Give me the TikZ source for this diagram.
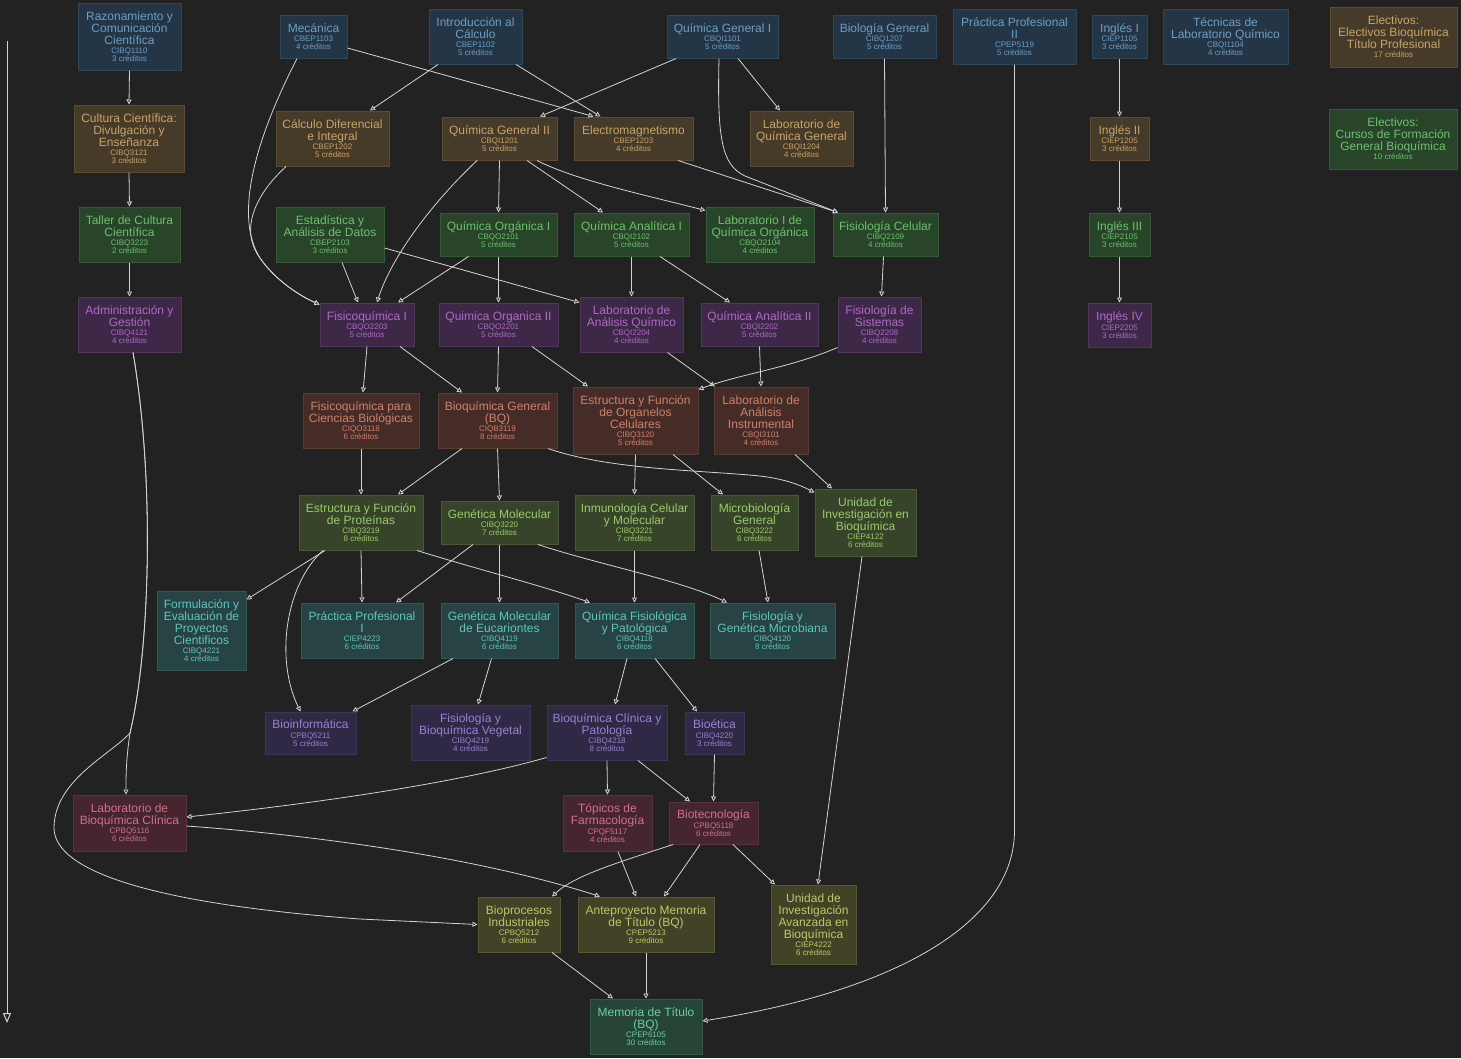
\documentclass[tikz,border=0pt]{standalone}
\usepackage{fontspec}
\setmainfont{Liberation Sans}
\usetikzlibrary{arrows.meta,calc}
\definecolor{bgc}{HTML}{222222}
\definecolor{linec}{HTML}{D4D4D4}
\definecolor{blueF}{HTML}{243645}\definecolor{blueD}{HTML}{2D4658}\definecolor{blueT}{HTML}{6B9EC6}
\definecolor{brownF}{HTML}{463A28}\definecolor{brownD}{HTML}{5B4B33}\definecolor{brownT}{HTML}{C9A468}
\definecolor{greenF}{HTML}{28452A}\definecolor{greenD}{HTML}{325A36}\definecolor{greenT}{HTML}{6CC06C}
\definecolor{purpF}{HTML}{3D2947}\definecolor{purpD}{HTML}{4F355B}\definecolor{purpT}{HTML}{B067C7}
\definecolor{rustF}{HTML}{462C27}\definecolor{rustD}{HTML}{5B3A33}\definecolor{rustT}{HTML}{D0806B}
\definecolor{oliveF}{HTML}{374429}\definecolor{oliveD}{HTML}{485935}\definecolor{oliveT}{HTML}{9ACB69}
\definecolor{tealF}{HTML}{274343}\definecolor{tealD}{HTML}{305857}\definecolor{tealT}{HTML}{5EC6BD}
\definecolor{indF}{HTML}{2F2946}\definecolor{indD}{HTML}{3D355A}\definecolor{indT}{HTML}{9A7FD3}
\definecolor{marF}{HTML}{45262F}\definecolor{marD}{HTML}{5A323E}\definecolor{marT}{HTML}{D26E8C}
\definecolor{yelF}{HTML}{414226}\definecolor{yelD}{HTML}{565832}\definecolor{yelT}{HTML}{C3C66B}
\definecolor{dgF}{HTML}{264537}\definecolor{dgD}{HTML}{305A47}\definecolor{dgT}{HTML}{6CCFA0}
\newcommand\smtx[1]{{\fontsize{8}{8}\selectfont #1}}
\newcommand\crsinfo[2]{\\[-2.7pt]\smtx{#1}\\[-4pt]\smtx{#2}}
\tikzset{
 crs/.style={rectangle, inner sep=0pt, line width=1pt, align=center, font=\fontsize{12}{12}\selectfont},
 cblue/.style={crs, fill=blueF, draw=blueD, text=blueT},
 cbrown/.style={crs, fill=brownF, draw=brownD, text=brownT},
 cgreen/.style={crs, fill=greenF, draw=greenD, text=greenT},
 cpurp/.style={crs, fill=purpF, draw=purpD, text=purpT},
 crust/.style={crs, fill=rustF, draw=rustD, text=rustT},
 colive/.style={crs, fill=oliveF, draw=oliveD, text=oliveT},
 cteal/.style={crs, fill=tealF, draw=tealD, text=tealT},
 cind/.style={crs, fill=indF, draw=indD, text=indT},
 cmar/.style={crs, fill=marF, draw=marD, text=marT},
 cyel/.style={crs, fill=yelF, draw=yelD, text=yelT},
 cdg/.style={crs, fill=dgF, draw=dgD, text=dgT},
 wh/.style 2 args={minimum width=#1, minimum height=#2},
 arr/.style={draw=linec, line width=0.8pt, -{Triangle[open,length=5pt,width=5pt,fill=bgc]}},
 axisarr/.style={draw=linec, line width=1pt, -{Triangle[open,length=10pt,width=8pt,fill=bgc]}},
}
\begin{document}
\begin{tikzpicture}[x=1pt,y=-1pt]
\path[fill=bgc,use as bounding box] (0,0) rectangle (1461,1058);
% row 1
\node[cblue, wh={103}{67}] (raz) at (129.5,36.5) {Razonamiento y\\Comunicación\\Científica\crsinfo{CIBQ1110}{3 créditos}};
\node[cblue, wh={67}{43}] (mec) at (313.5,36.5) {Mecánica\crsinfo{CBEP1103}{4 créditos}};
\node[cblue, wh={93}{55}] (intro) at (475.5,36.5) {Introducción al\\Cálculo\crsinfo{CBEP1102}{5 créditos}};
\node[cblue, wh={111}{43}] (qg1) at (722.5,36.5) {Química General I\crsinfo{CBQI1101}{5 créditos}};
\node[cblue, wh={103}{43}] (biogen) at (884.5,36.5) {Biología General\crsinfo{CIBQ1207}{5 créditos}};
\node[cblue, wh={123}{55}] (prac2) at (1014.5,36.5) {Práctica Profesional\\II\crsinfo{CPEP5119}{5 créditos}};
\node[cblue, wh={55}{43}] (ing1) at (1119.5,36.5) {Inglés I\crsinfo{CIEP1105}{3 créditos}};
\node[cblue, wh={125}{55}] (tec) at (1225.5,36.5) {Técnicas de\\Laboratorio Químico\crsinfo{CBQI1104}{4 créditos}};
\node[cbrown, wh={127}{60}] (elec1) at (1393.5,37) {Electivos:\\Electivos Bioquímica\\Título Profesional\\[-2.7pt]\smtx{17 créditos}};
% row 2
\node[cbrown, wh={110}{67}] (cult) at (129,138.5) {Cultura Científica:\\Divulgación y\\Enseñanza\crsinfo{CIBQ3121}{3 créditos}};
\node[cbrown, wh={113}{55}] (calc) at (332.5,138.5) {Cálculo Diferencial\\e Integral\crsinfo{CBEP1202}{5 créditos}};
\node[cbrown, wh={115}{43}] (qg2) at (499.5,138.5) {Química General II\crsinfo{CBQI1201}{5 créditos}};
\node[cbrown, wh={119}{43}] (electro) at (633.5,138.5) {Electromagnetismo\crsinfo{CBEP1203}{4 créditos}};
\node[cbrown, wh={103}{55}] (labqg) at (801.5,138.5) {Laboratorio de\\Química General\crsinfo{CBQI1204}{4 créditos}};
\node[cbrown, wh={59}{43}] (ing2) at (1119.5,138.5) {Inglés II\crsinfo{CIEP1205}{3 créditos}};
\node[cgreen, wh={128}{60}] (elec2) at (1393,139) {Electivos:\\Cursos de Formación\\General Bioquímica\\[-2.7pt]\smtx{10 créditos}};
% row 3
\node[cgreen, wh={101}{55}] (taller) at (129.5,234.5) {Taller de Cultura\\Científica\crsinfo{CIBQ3223}{2 créditos}};
\node[cgreen, wh={108}{55}] (estad) at (330,234.5) {Estadística y\\Análisis de Datos\crsinfo{CBEP2103}{3 créditos}};
\node[cgreen, wh={117}{43}] (qo1) at (498.5,234.5) {Química Orgánica I\crsinfo{CBQO2101}{5 créditos}};
\node[cgreen, wh={115}{43}] (qa1) at (631.5,234.5) {Química Analítica I\crsinfo{CBQI2102}{5 créditos}};
\node[cgreen, wh={108}{55}] (labqo) at (760,234.5) {Laboratorio I de\\Química Orgánica\crsinfo{CBQO2104}{4 créditos}};
\node[cgreen, wh={105}{43}] (fcel) at (885.5,234.5) {Fisiología Celular\crsinfo{CIBQ2109}{4 créditos}};
\node[cgreen, wh={61}{43}] (ing3) at (1119.5,234.5) {Inglés III\crsinfo{CIEP2105}{3 créditos}};
% row 4
\node[cpurp, wh={103}{55}] (admin) at (129.5,324.5) {Administración y\\Gestión\crsinfo{CIBQ4121}{4 créditos}};
\node[cpurp, wh={94}{43}] (fq1) at (367,324.5) {Fisicoquímica I\crsinfo{CBQO2203}{5 créditos}};
\node[cpurp, wh={119}{43}] (qo2) at (498.5,324.5) {Quimica Organica II\crsinfo{CBQO2201}{5 créditos}};
\node[cpurp, wh={103}{55}] (labaq) at (631.5,324.5) {Laboratorio de\\Análisis Químico\crsinfo{CBQI2204}{4 créditos}};
\node[cpurp, wh={117}{43}] (qa2) at (759.5,324.5) {Química Analítica II\crsinfo{CBQI2202}{5 créditos}};
\node[cpurp, wh={83}{55}] (fsis) at (879.5,324.5) {Fisiología de\\Sistemas\crsinfo{CIBQ2208}{4 créditos}};
\node[cpurp, wh={63}{44}] (ing4) at (1119.5,325) {Inglés IV\crsinfo{CIEP2205}{3 créditos}};
% row 5
\node[crust, wh={116}{55}] (fqcb) at (361,420.5) {Fisicoquímica para\\Ciencias Biológicas\crsinfo{CIQO3118}{6 créditos}};
\node[crust, wh={119}{55}] (bqg) at (497.5,420.5) {Bioquímica General\\(BQ)\crsinfo{CIQB3119}{8 créditos}};
\node[crust, wh={125}{67}] (eforg) at (635.5,420.5) {Estructura y Función\\de Organelos\\Celulares\crsinfo{CIBQ3120}{5 créditos}};
\node[crust, wh={94}{67}] (labai) at (761,420.5) {Laboratorio de\\Análisis\\Instrumental\crsinfo{CBQI3101}{4 créditos}};
% row 6
\node[colive, wh={124}{55}] (efprot) at (361,522.5) {Estructura y Función\\de Proteínas\crsinfo{CIBQ3219}{8 créditos}};
\node[colive, wh={117}{43}] (genmol) at (499.5,522.5) {Genética Molecular\crsinfo{CIBQ3220}{7 créditos}};
\node[colive, wh={119}{55}] (inmuno) at (634.5,522.5) {Inmunología Celular\\y Molecular\crsinfo{CIBQ3221}{7 créditos}};
\node[colive, wh={87}{55}] (micro) at (754.5,522.5) {Microbiología\\General\crsinfo{CIBQ3222}{6 créditos}};
\node[colive, wh={101}{67}] (uib) at (865.5,522.5) {Unidad de\\Investigación en\\Bioquímica\crsinfo{CIEP4122}{6 créditos}};
% row 7
\node[cteal, wh={89}{79}] (formul) at (201.5,630.5) {Formulación y\\Evaluación de\\Proyectos\\Cientificos\crsinfo{CIBQ4221}{4 créditos}};
\node[cteal, wh={122}{55}] (prac1) at (362,630.5) {Práctica Profesional\\I\crsinfo{CIEP4223}{6 créditos}};
\node[cteal, wh={117}{55}] (gme) at (499.5,630.5) {Genética Molecular\\de Eucariontes\crsinfo{CIBQ4119}{6 créditos}};
\node[cteal, wh={119}{55}] (qfis) at (634.5,630.5) {Química Fisiológica\\y Patológica\crsinfo{CIBQ4118}{6 créditos}};
\node[cteal, wh={125}{55}] (fgm) at (772.5,630.5) {Fisiología y\\Genética Microbiana\crsinfo{CIBQ4120}{8 créditos}};
% row 8
\node[cind, wh={91}{42}] (bioinf) at (310.5,733) {Bioinformática\crsinfo{CPBQ5211}{5 créditos}};
\node[cind, wh={119}{55}] (fbv) at (470.5,732.5) {Fisiología y\\Bioquímica Vegetal\crsinfo{CIBQ4219}{4 créditos}};
\node[cind, wh={120}{55}] (bqcp) at (607,732.5) {Bioquímica Clínica y\\Patología\crsinfo{CIBQ4218}{8 créditos}};
\node[cind, wh={59}{42}] (bioet) at (714.5,733) {Bioética\crsinfo{CIBQ4220}{3 créditos}};
% row 9
\node[cmar, wh={113}{56}] (labbqc) at (129.5,823) {Laboratorio de\\Bioquímica Clínica\crsinfo{CPBQ5116}{6 créditos}};
\node[cmar, wh={89}{56}] (topic) at (607.5,823) {Tópicos de\\Farmacología\crsinfo{CPQF5117}{4 créditos}};
\node[cmar, wh={89}{42}] (biotec) at (713.5,823) {Biotecnología\crsinfo{CPBQ5118}{6 créditos}};
% row 10
\node[cyel, wh={82}{55}] (bioproc) at (519,924.5) {Bioprocesos\\Industriales\crsinfo{CPBQ5212}{6 créditos}};
\node[cyel, wh={136}{55}] (antep) at (646,924.5) {Anteproyecto Memoria\\de Título (BQ)\crsinfo{CPEP5213}{9 créditos}};
\node[cyel, wh={85}{79}] (uia) at (813.5,924.5) {Unidad de\\Investigación\\Avanzada en\\Bioquímica\crsinfo{CIEP4222}{6 créditos}};
% row 11
\node[cdg, wh={112}{55}] (memoria) at (646,1026.5) {Memoria de Título\\(BQ)\crsinfo{CPEP6105}{30 créditos}};
% axis
\coordinate (axtop) at (7,41);
\coordinate (axbot) at (7,1023);
\draw[axisarr] (axtop) -- (axbot);
% edges
\draw[arr] (raz.south) -- (cult.north);
\draw[arr] (cult.south) -- (taller.north);
\draw[arr] (taller.south) -- (admin.north);
\draw[arr] ([xshift=3.5]admin.south) .. controls (155,480) and (150,650) .. (130,733) .. controls (126,760) and (126,775) .. ([xshift=-3.5]labbqc.north);
\draw[arr] ([xshift=3.5]admin.south) .. controls (155,480) and (150,650) .. (130,733) .. controls (110,755) and (55,780) .. (54,827) .. controls (53,875) and (170,905) .. (360,919) -- (bioproc.west);
\draw[arr] ([yshift=-11.5]mec.east) -- ([xshift=-40]electro.north);
\draw[arr] ([xshift=40.5]intro.south) -- ([xshift=-33]electro.north);
\draw[arr] ([xshift=-37.5]intro.south) -- ([xshift=37.5]calc.north);
\draw[arr] ([xshift=-46.5]qg1.south) -- ([xshift=40.5]qg2.north);
\draw[arr] ([xshift=15.5]qg1.south) -- ([xshift=-21.5]labqg.north);
\draw[arr] ([xshift=-3.5]qg1.south) .. controls (717,140) and (722,165) .. (745,176) -- ([xshift=-47.5]fcel.north);
\draw[arr] ([xshift=44.5]electro.south) -- ([xshift=-47.5]fcel.north);
\draw[arr] (biogen.south) -- (fcel.north);
\draw[arr] ([xshift=-22.5]qg2.south) .. controls (435,200) and (392,255) .. ([xshift=10]fq1.north);
\draw[arr] (qg2.south) -- (qo1.north);
\draw[arr] ([xshift=27.5]qg2.south) -- ([xshift=-28.5]qa1.north);
\draw[arr] ([xshift=37.5]qg2.south) .. controls (575,180) and (645,195) .. ([yshift=-4]labqo.north west);
\draw[arr] ([xshift=12]estad.south) -- ([xshift=-9]fq1.north);
\draw[arr] ([yshift=-13.5]estad.east) -- ([yshift=-6]labaq.north west);
\draw[arr] ([xshift=-46.5]calc.south) .. controls (258,192) and (238,228) .. (260,258) .. controls (275,280) and (300,296) .. ([yshift=-2]fq1.north west);
\draw[arr] ([xshift=-16.5]mec.south) .. controls (250,150) and (236,220) .. (260,258) .. controls (275,280) and (300,296) .. ([yshift=-2]fq1.north west);
\draw[arr] ([xshift=-30]qo1.south) -- ([xshift=31]fq1.north);
\draw[arr] (qo1.south) -- (qo2.north);
\draw[arr] (qa1.south) -- (labaq.north);
\draw[arr] ([xshift=28.5]qa1.south) -- ([xshift=-29.5]qa2.north);
\draw[arr] ([xshift=-2]fcel.south) -- ([xshift=2]fsis.north);
\draw[arr] (ing1.south) -- (ing2.north);
\draw[arr] (ing2.south) -- (ing3.north);
\draw[arr] (ing3.south) -- (ing4.north);
\draw[arr] (fq1.south) -- ([xshift=2]fqcb.north);
\draw[arr] ([xshift=33]fq1.south) -- ([xshift=-35.5]bqg.north);
\draw[arr] (qo2.south) -- (bqg.north);
\draw[arr] ([xshift=33.5]qo2.south) -- ([xshift=-47.5]eforg.north);
\draw[arr] ([xshift=36]labaq.south) -- ([xshift=-46]labai.north);
\draw[arr] ([yshift=5]fsis.south west) .. controls (790,368) and (740,374) .. ([yshift=-3]eforg.north east);
\draw[arr] (qa2.south) -- (labai.north);
\draw[arr] (fqcb.south) -- (efprot.north);
\draw[arr] ([xshift=-35.5]bqg.south) -- ([xshift=37]efprot.north);
\draw[arr] (bqg.south) -- (genmol.north);
\draw[arr] ([xshift=50.5]bqg.south) .. controls (610,470) and (700,470) .. (760,476) .. controls (785,479) and (800,485) .. ([yshift=-4]uib.north west);
\draw[arr] (eforg.south) -- (inmuno.north);
\draw[arr] ([xshift=37.5]eforg.south) -- ([xshift=-31.5]micro.north);
\draw[arr] ([xshift=34]labai.south) -- ([xshift=-33.5]uib.north);
\draw[arr] ([xshift=-36]efprot.south) -- ([yshift=-9]formul.north east);
\draw[arr] ([xshift=-38]efprot.south) .. controls (285,585) and (275,660) .. ([xshift=-10]bioinf.north);
\draw[arr] (efprot.south) -- (prac1.north);
\draw[arr] ([xshift=56]efprot.south) .. controls (480,570) and (540,585) .. ([xshift=-44.5]qfis.north);
\draw[arr] ([xshift=-26.5]genmol.south) -- ([xshift=34]prac1.north);
\draw[arr] (genmol.south) -- (gme.north);
\draw[arr] ([xshift=38.5]genmol.south) .. controls (600,565) and (680,580) .. ([xshift=-45.5]fgm.north);
\draw[arr] (inmuno.south) -- (qfis.north);
\draw[arr] ([xshift=4.5]micro.south) -- ([xshift=-4.5]fgm.north);
\draw[arr] ([xshift=-3.5]uib.south) -- ([xshift=4.5]uia.north);
\draw[arr] ([xshift=-46.5]gme.south) -- ([xshift=-4]bioinf.north east);
\draw[arr] ([xshift=-8]gme.south) -- ([xshift=7.5]fbv.north);
\draw[arr] ([xshift=-7.5]qfis.south) -- ([xshift=8]bqcp.north);
\draw[arr] ([xshift=20.5]qfis.south) -- ([xshift=-17.5]bioet.north);
\draw[arr] ([yshift=3]bqcp.south west) .. controls (450,785) and (300,805) .. ([yshift=6]labbqc.east);
\draw[arr] (bqcp.south) -- (topic.north);
\draw[arr] ([xshift=31]bqcp.south) -- ([xshift=-23.5]biotec.north);
\draw[arr] (bioet.south) -- (biotec.north);
\draw[arr] ([yshift=-3]labbqc.east) .. controls (300,834) and (470,855) .. ([xshift=-46]antep.north);
\draw[arr] ([xshift=10.5]topic.south) -- ([xshift=-10]antep.north);
\draw[arr] ([xshift=-40.5]biotec.south) .. controls (620,862) and (575,875) .. ([xshift=33]bioproc.north);
\draw[arr] ([xshift=-13.5]biotec.south) -- ([xshift=18]antep.north);
\draw[arr] ([xshift=19.5]biotec.south) -- ([xshift=-38.5]uia.north);
\draw[arr] ([xshift=33]bioproc.south) -- ([xshift=-33]memoria.north);
\draw[arr] (antep.south) -- (memoria.north);
\draw[arr] (prac2.south) -- ++(0,766) .. controls +(0,90) and +(198,-31) .. ([yshift=5.5]memoria.east);
\end{tikzpicture}
\end{document}
